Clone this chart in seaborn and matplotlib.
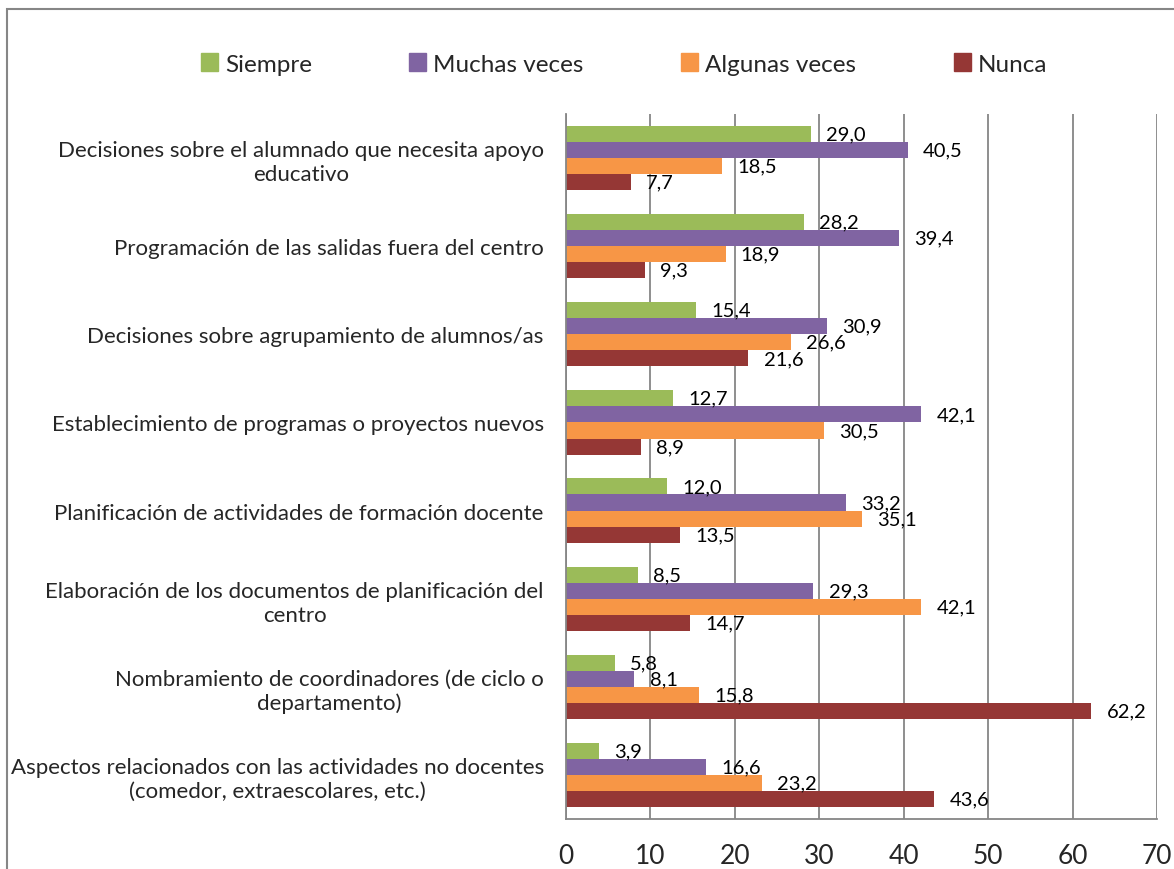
import numpy as np
import pandas as pd
import matplotlib
matplotlib.use("Agg")
import matplotlib.pyplot as plt
import matplotlib.patches as mpatches
import seaborn as sns

# Categories (top to bottom) and series values
categories = [
    "Decisiones sobre el alumnado que necesita apoyo\neducativo",
    "Programación de las salidas fuera del centro",
    "Decisiones sobre agrupamiento de alumnos/as",
    "Establecimiento de programas o proyectos nuevos",
    "Planificación de actividades de formación docente",
    "Elaboración de los documentos de planificación del\ncentro",
    "Nombramiento de coordinadores (de ciclo o\ndepartamento)",
    "Aspectos relacionados con las actividades no docentes\n(comedor, extraescolares, etc.)",
]
series = ["Siempre", "Muchas veces", "Algunas veces", "Nunca"]
siempre = [29.0, 28.2, 15.4, 12.7, 12.0, 8.5, 5.8, 3.9]
muchas = [40.5, 39.4, 30.9, 42.1, 33.2, 29.3, 8.1, 16.6]
algunas = [18.5, 18.9, 26.6, 30.5, 35.1, 42.1, 15.8, 23.2]
nunca = [7.7, 9.3, 21.6, 8.9, 13.5, 14.7, 62.2, 43.6]
x_ticks = [0, 10, 20, 30, 40, 50, 60, 70]

colors = ["#9BBB59", "#8064A2", "#F79646", "#953735"]

df = pd.DataFrame({
    "cat": categories * 4,
    "serie": sum([[s] * len(categories) for s in series], []),
    "valor": siempre + muchas + algunas + nunca,
})

sns.set_style("white")
plt.rcParams["font.family"] = ["Lato", "DejaVu Sans"]

fig = plt.figure(figsize=(11.74, 8.70), dpi=100)
ax = fig.add_axes([566 / 1174, 1 - 820 / 870, (1157 - 566) / 1174, (820 - 115) / 870])

sns.barplot(data=df, y="cat", x="valor", hue="serie", order=categories,
            hue_order=series, palette=colors, orient="h", width=0.73,
            linewidth=0, saturation=1, ax=ax)

for cont in ax.containers:
    labs = [f"{b.get_width():.1f}".replace(".", ",") for b in cont]
    ax.bar_label(cont, labels=labs, padding=11, fontsize=14.5, color="black")

ax.set_xlim(0, 70)
ax.set_ylim(len(categories) - 0.5, -0.5)
ax.set_xticks(x_ticks)
ax.set_xlabel("")
ax.set_ylabel("")
ax.tick_params(axis="x", labelsize=19, length=8, width=1.2, color="#868686",
               direction="out", pad=9)
ax.tick_params(axis="y", which="major", length=0, labelsize=16, pad=16)
ax.set_yticks(np.arange(-0.5, len(categories), 1), minor=True)
ax.tick_params(axis="y", which="minor", length=7, width=1.2, color="#868686",
               direction="out")
for lab in ax.get_yticklabels():
    lab.set_multialignment("center")
    lab.set_linespacing(1.25)

ax.grid(axis="x", color="#868686", linewidth=1.3)
ax.set_axisbelow(True)
for side in ["top", "right"]:
    ax.spines[side].set_visible(False)
for side in ["left", "bottom"]:
    ax.spines[side].set_color("#868686")
    ax.spines[side].set_linewidth(1.3)

ax.legend_.remove()
handles = [mpatches.Patch(color=c, label=s) for c, s in zip(colors, series)]
fig.legend(handles=handles, loc="center", bbox_to_anchor=(0.5315, 1 - 65 / 870),
           ncol=4, frameon=False, fontsize=17.5, columnspacing=4.0,
           handlelength=0.7, handleheight=0.7, handletextpad=0.3)

# outer chart border
fig.patches.append(mpatches.Rectangle((7 / 1174, -0.05), 1.1, 1 - 10 / 870 + 0.05,
                                      transform=fig.transFigure, fill=False,
                                      edgecolor="#868686", linewidth=1.5))

fig.savefig("out.png", dpi=100)
